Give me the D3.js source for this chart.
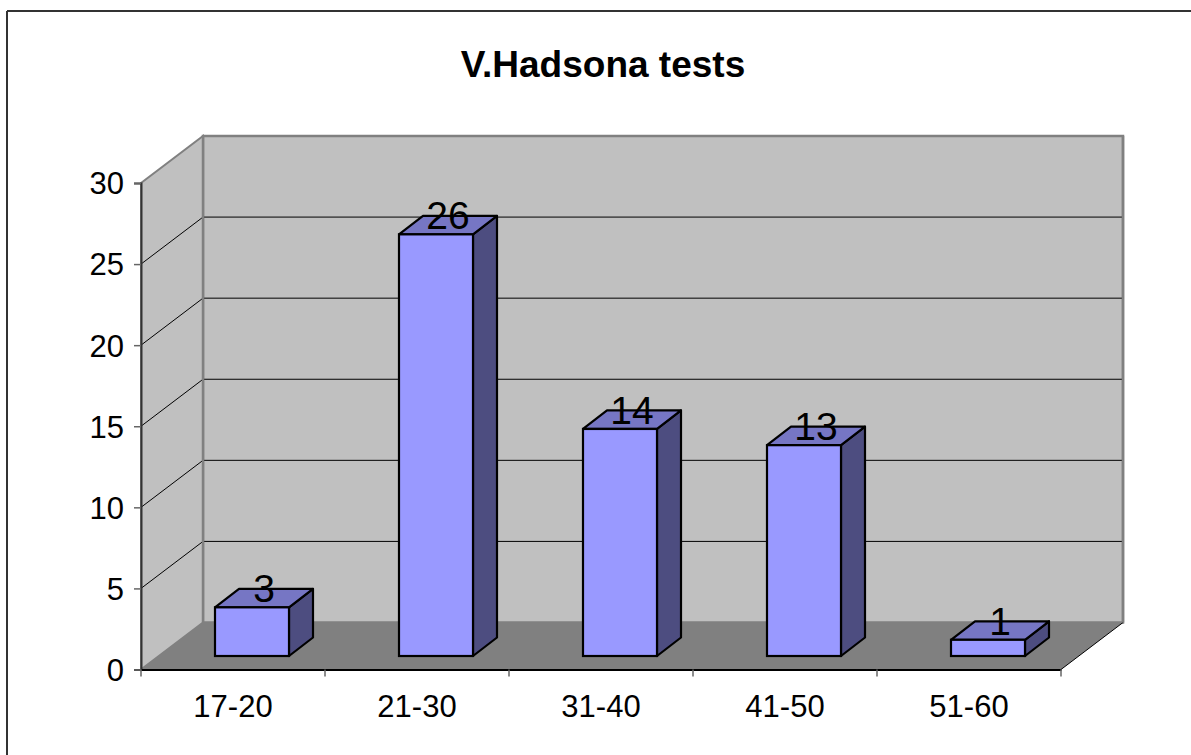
<!DOCTYPE html>
<html>
<head>
<meta charset="utf-8">
<script src="https://cdn.jsdelivr.net/npm/d3@7/dist/d3.min.js"></script>
<style>
  html, body { margin: 0; padding: 0; background: #fff; overflow: hidden; }
  svg { display: block; }
  text { font-family: "Liberation Sans", Arial, sans-serif; }
</style>
</head>
<body>
<svg id="chart" width="1191" height="755"></svg>
<script>
const title = "V.Hadsona tests";
const categories = ["17-20", "21-30", "31-40", "41-50", "51-60"];
const values = [3, 26, 14, 13, 1];
const yTicks = [0, 5, 10, 15, 20, 25, 30];

const svg = d3.select("#chart");
const W = 1191, H = 755;

// 3D geometry
const DX = 62, DY = 47;          // wall depth
const BX = 19, BY = 13.5;        // bar front plane offset
const BDX = 24, BDY = 18.5;      // bar depth
const barW = 74;

const x = d3.scaleBand().domain(categories).range([141, 1061]).padding(0);
const y = d3.scaleLinear().domain([0, 30]).range([669.5, 183]);

// outer border (only top and left edges visible)
svg.append("line").attr("x1", 7).attr("y1", 11).attr("x2", W).attr("y2", 11)
  .attr("stroke", "#333").attr("stroke-width", 2);
svg.append("line").attr("x1", 7).attr("y1", 11).attr("x2", 7).attr("y2", H)
  .attr("stroke", "#333").attr("stroke-width", 2);

// title
svg.append("text").attr("x", 603).attr("y", 77).attr("text-anchor", "middle")
  .attr("font-size", 37).attr("font-weight", "bold").attr("fill", "#000").text(title);

const x0 = x.range()[0], x1 = x.range()[1];
const yTop = y(30), yBot = y(0);
const pts = a => a.map(p => p.join(",")).join(" ");

// back wall
svg.append("polygon")
  .attr("points", pts([[x0 + DX, yTop - DY], [x1 + DX, yTop - DY], [x1 + DX, yBot - DY], [x0 + DX, yBot - DY]]))
  .attr("fill", "#c0c0c0").attr("stroke", "#808080").attr("stroke-width", 2.5);

// side wall
svg.append("polygon")
  .attr("points", pts([[x0, yTop], [x0 + DX, yTop - DY], [x0 + DX, yBot - DY], [x0, yBot]]))
  .attr("fill", "#c0c0c0").attr("stroke", "#808080").attr("stroke-width", 2);

// floor
svg.append("polygon")
  .attr("points", pts([[x0, yBot], [x0 + DX, yBot - DY], [x1 + DX, yBot - DY], [x1, yBot]]))
  .attr("fill", "#808080").attr("stroke", "none");
svg.append("line").attr("x1", x1).attr("y1", yBot).attr("x2", x1 + DX).attr("y2", yBot - DY)
  .attr("stroke", "#000").attr("stroke-width", 1);

// gridlines
const grid = yTicks.filter(t => t > 0 && t < 30);
svg.selectAll(".gs").data(grid).enter().append("line")
  .attr("x1", x0).attr("y1", d => y(d)).attr("x2", x0 + DX).attr("y2", d => y(d) - DY)
  .attr("stroke", "#000").attr("stroke-width", 1);
svg.selectAll(".gb").data(grid).enter().append("line")
  .attr("x1", x0 + DX).attr("y1", d => y(d) - DY).attr("x2", x1 + DX).attr("y2", d => y(d) - DY)
  .attr("stroke", "#000").attr("stroke-width", 1);
// redraw back wall edges over gridlines
svg.append("line").attr("x1", x0 + DX).attr("y1", yTop - DY).attr("x2", x0 + DX).attr("y2", yBot - DY)
  .attr("stroke", "#808080").attr("stroke-width", 2.5);
svg.append("line").attr("x1", x1 + DX).attr("y1", yTop - DY).attr("x2", x1 + DX).attr("y2", yBot - DY)
  .attr("stroke", "#808080").attr("stroke-width", 2.5);

// y axis
const yAxis = d3.axisLeft(y).tickValues(yTicks).tickSize(7).tickPadding(10);
const gy = svg.append("g").attr("transform", `translate(${x0},0)`).call(yAxis);
gy.select(".domain").attr("stroke", "#333").attr("stroke-width", 2);
gy.selectAll(".tick line").attr("stroke", "#666").attr("stroke-width", 1.5);
gy.selectAll(".tick text").attr("font-size", 31).attr("fill", "#000")
  .attr("font-family", "'Liberation Sans', Arial, sans-serif").attr("dy", "0.35em");

// x axis
const xAxis = d3.axisBottom(x).tickSize(0).tickPadding(0);
const gx = svg.append("g").attr("transform", `translate(0,${yBot})`).call(xAxis);
gx.select(".domain").attr("stroke", "#000").attr("stroke-width", 2);
gx.selectAll(".tick text").attr("font-size", 31).attr("fill", "#000")
  .attr("font-family", "'Liberation Sans', Arial, sans-serif").attr("y", 47).attr("dy", 0);
const edges = categories.map(c => x(c)).concat([x1]);
svg.selectAll(".xt").data(edges).enter().append("line")
  .attr("x1", d => d).attr("x2", d => d).attr("y1", yBot).attr("y2", yBot + 7)
  .attr("stroke", "#666").attr("stroke-width", 1.5);

// bars
const bars = svg.selectAll(".bar").data(categories.map((c, i) => ({ c, v: values[i] })))
  .enter().append("g");
bars.each(function (d) {
  const g = d3.select(this);
  const cx = x(d.c) + x.bandwidth() / 2 + BX;
  const l = cx - barW / 2, r = cx + barW / 2;
  const b = y(0) - BY, t = y(d.v) - BY;
  // side
  g.append("polygon").attr("points", pts([[r, t], [r + BDX, t - BDY], [r + BDX, b - BDY], [r, b]]))
    .attr("fill", "#4d4d80").attr("stroke", "#000").attr("stroke-width", 2.2).attr("stroke-linejoin", "round");
  // top
  g.append("polygon").attr("points", pts([[l, t], [l + BDX, t - BDY], [r + BDX, t - BDY], [r, t]]))
    .attr("fill", "#7676c4").attr("stroke", "#000").attr("stroke-width", 2.2).attr("stroke-linejoin", "round");
  // front
  g.append("rect").attr("x", l).attr("y", t).attr("width", barW).attr("height", b - t)
    .attr("fill", "#9999ff").attr("stroke", "#000").attr("stroke-width", 2.2);
  // label
  g.append("text").attr("x", cx + BDX / 2).attr("y", t - BDY / 2 + 4)
    .attr("text-anchor", "middle").attr("font-size", 39).attr("fill", "#000").text(d.v);
});
</script>
</body>
</html>
